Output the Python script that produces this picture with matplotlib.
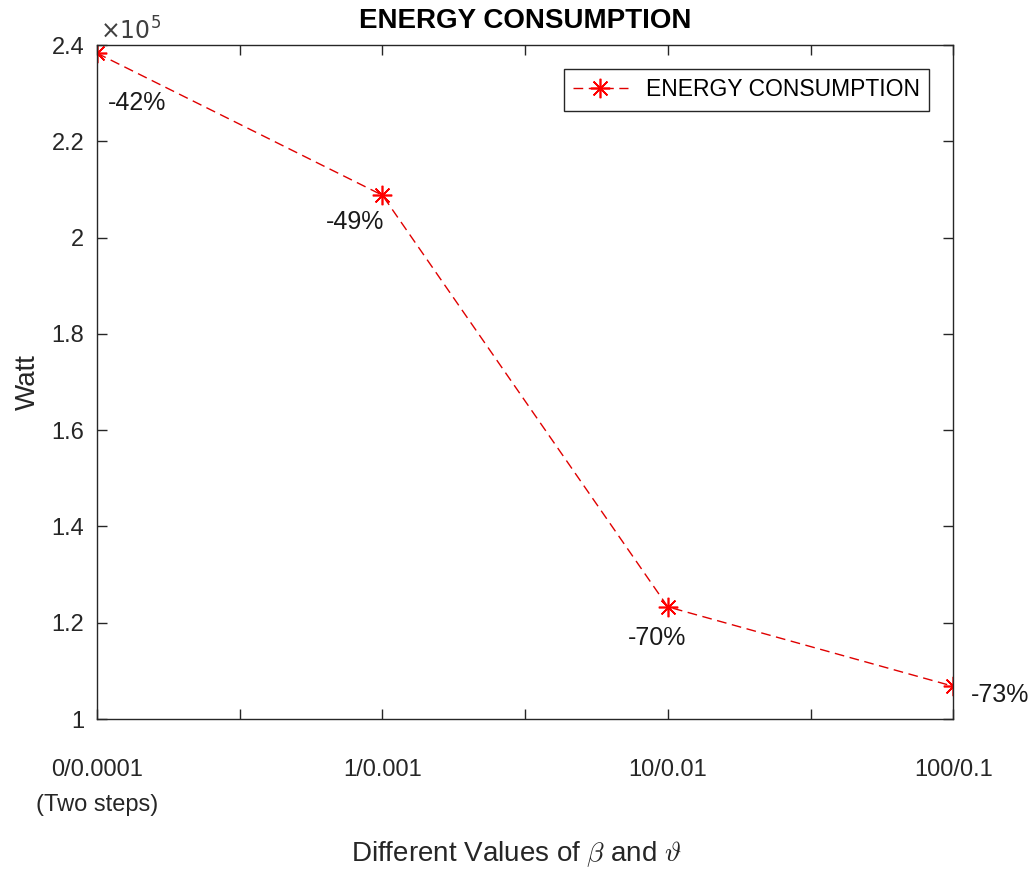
import matplotlib.pyplot as plt
import numpy as np

plt.rcParams['font.family'] = ['Liberation Sans', 'DejaVu Sans']
plt.rcParams['mathtext.fontset'] = 'cm'

# data
steps = [1, 2, 3, 4]
tick_labels = ['0/0.0001\n(Two steps)', '1/0.001', '10/0.01', '100/0.1']
energy = [2.383e5, 2.088e5, 1.233e5, 1.068e5]
pct = ['-42%', '-49%', '-70%', '-73%']
pct_offset = [(40, -50), (-27, -27), (-11, -31), (47, -9)]  # pixel offsets of the labels

fig = plt.figure(figsize=(10.35, 8.69), dpi=100)
ax = fig.add_axes([0.0937, 0.1726, 0.8273, 0.7756])

ax.plot(steps, energy, color='#e00000', ls=(0, (7, 4)), lw=1.0,
        marker=(8, 2, 0), ms=14, mew=1.2, mec='#ff0000', label='ENERGY CONSUMPTION')

for x, y, t, off in zip(steps, energy, pct, pct_offset):
    ax.annotate(t, (x, y), xytext=off, textcoords='offset pixels',
                ha='center', va='center', fontsize=18, color='#1a1a1a')

ax.set_xlim(1, 4)
ax.set_ylim(1e5, 2.4e5)
ax.set_xticks(np.arange(1, 4.01, 0.5))
ax.set_xticklabels([tick_labels[0], '', tick_labels[1], '', tick_labels[2], '', tick_labels[3]])
for lab in ax.get_xticklabels():
    lab.set_linespacing(1.75)
ax.set_yticks(np.arange(1e5, 2.41e5, 0.2e5))
ax.set_yticklabels(['1', '1.2', '1.4', '1.6', '1.8', '2', '2.2', '2.4'])
ax.text(0.003, 1.0, r'$\times10^5$', transform=ax.transAxes, fontsize=17,
        color='#404040', va='bottom', ha='left', math_fontfamily='dejavusans')

ax.tick_params(direction='in', top=True, right=True, length=7, width=1,
               labelsize=17, colors='#262626', pad=9)
ax.tick_params(axis='x', pad=29)
for s in ax.spines.values():
    s.set_color('#262626')
    s.set_linewidth(1)

ax.set_title('ENERGY CONSUMPTION', fontsize=20, fontweight='bold', pad=12)
ax.set_ylabel('Watt', fontsize=20, color='#262626', labelpad=8)
xl = ax.set_xlabel(r'Different Values of $\beta$ and $\vartheta$', fontsize=20,
                   color='#262626', va='center')
ax.xaxis.set_label_coords(0.49, -0.2)

leg = ax.legend(loc='upper right', fontsize=16.5, fancybox=False, framealpha=1,
                edgecolor='#262626', borderpad=0.4, handlelength=2.4,
                bbox_to_anchor=(0.9855, 0.981))
leg.get_frame().set_linewidth(1)

fig.savefig('out.png', dpi=100)
